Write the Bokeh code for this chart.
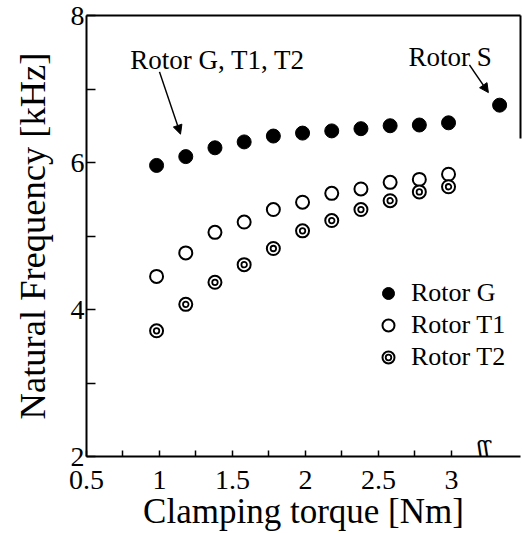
from bokeh.plotting import figure
from bokeh.models import (LinearAxis, FixedTicker, Legend, LegendItem, Arrow,
                          NormalHead, Range1d, Label)
from bokeh.core.properties import value
from bokeh.embed import file_html
from bokeh.resources import INLINE

# ---- data ----
torque = [0.98, 1.18, 1.38, 1.58, 1.78, 1.98, 2.18, 2.38, 2.58, 2.78, 2.98]
freq_g = [5.96, 6.08, 6.20, 6.28, 6.36, 6.40, 6.43, 6.46, 6.50, 6.51, 6.54]
freq_t1 = [4.45, 4.77, 5.05, 5.19, 5.36, 5.46, 5.58, 5.64, 5.73, 5.77, 5.84]
freq_t2 = [3.71, 4.07, 4.37, 4.61, 4.83, 5.07, 5.21, 5.36, 5.48, 5.60, 5.67]
torque_s = [3.33]
freq_s = [6.78]

x_ticks = [0.5, 1, 1.5, 2, 2.5, 3]
x_tick_labels = ["0.5", "1", "1.5", "2", "2.5", "3"]
x_minor = [0.75, 1.25, 1.75, 2.25, 2.75]
y_ticks = [2, 4, 6, 8]
y_minor = [3, 5, 7]

# annotation texts and arrows (data coordinates)
note_text = ["Rotor G, T1, T2", "Rotor S"]
note_x = [0.80, 2.705]
note_y = [7.388, 7.435]
arrow_start = [(1.00, 7.233), (3.123, 7.328)]
arrow_end = [(1.144, 6.386), (3.253, 6.951)]
break_x = 3.22
break_y = 2.09

FONT = "Liberation Serif"

p = figure(width=522, height=533,
           x_range=Range1d(0.5, 3.473), y_range=Range1d(2, 8),
           output_backend="svg", toolbar_location=None,
           min_border_left=86, min_border_right=2,
           min_border_top=15, min_border_bottom=72,
           x_axis_label="Clamping torque [Nm]",
           y_axis_label="Natural Frequency [kHz]")
p.outline_line_color = None
p.grid.visible = False
p.background_fill_color = "white"
p.border_fill_color = "white"

xa = p.xaxis[0]
xa.ticker = FixedTicker(ticks=x_ticks, minor_ticks=x_minor)
xa.major_label_overrides = dict(zip(x_ticks, x_tick_labels))
ya = p.yaxis[0]
ya.ticker = FixedTicker(ticks=y_ticks, minor_ticks=y_minor)

for ax, tin in ((xa, 6), (ya, 9)):
    ax.axis_line_width = 2
    ax.axis_line_color = "black"
    ax.major_tick_in = tin
    ax.major_tick_out = 0
    ax.minor_tick_in = tin
    ax.minor_tick_out = 0
    ax.major_tick_line_width = 1.5
    ax.minor_tick_line_width = 1.5
    ax.major_tick_line_color = "black"
    ax.minor_tick_line_color = "black"
    ax.major_label_text_font = FONT
    ax.major_label_text_font_size = "28px"
    ax.major_label_text_color = "black"
    ax.axis_label_text_font = FONT
    ax.axis_label_text_font_style = "normal"
    ax.axis_label_text_color = "black"
xa.axis_label_text_font_size = "35px"
ya.axis_label_text_font_size = "36.5px"
xa.major_label_standoff = 14
xa.axis_label_standoff = 0
ya.major_label_standoff = 2
ya.axis_label_standoff = 15

# frame lines on top and (partially) right
top = LinearAxis(ticker=FixedTicker(ticks=[]), major_label_text_font_size="0px",
                 axis_line_width=2, major_tick_in=0, major_tick_out=0,
                 minor_tick_in=0, minor_tick_out=0, major_label_standoff=0)
p.add_layout(top, "above")
right = LinearAxis(ticker=FixedTicker(ticks=[]), major_label_text_font_size="0px",
                   axis_line_width=2, major_tick_in=0, major_tick_out=0,
                   minor_tick_in=0, minor_tick_out=0, major_label_standoff=0,
                   bounds=(6.32, 8))
p.add_layout(right, "right")

# data
rg = p.scatter(torque + torque_s, freq_g + freq_s, marker="circle", size=14,
               fill_color="black", line_color="black", line_width=1)
rt1 = p.scatter(torque, freq_t1, marker="circle", size=13, fill_color="white",
                line_color="black", line_width=2)
rt2 = p.scatter(torque, freq_t2, marker="circle", size=13, fill_color="white",
                line_color="black", line_width=2)
rt2i = p.scatter(torque, freq_t2, marker="circle", size=5.5, fill_color="white",
                 line_color="black", line_width=1.8)

# annotations
p.text(x=note_x, y=note_y, text=note_text, text_font=value(FONT),
       text_font_size="27px", text_baseline="alphabetic", text_align="left",
       text_color="black")
for (xs, ys), (xe, ye) in zip(arrow_start, arrow_end):
    p.add_layout(Arrow(end=NormalHead(size=9, fill_color="black", line_color="black"),
                       x_start=xs, y_start=ys, x_end=xe, y_end=ye,
                       line_width=1.5, line_color="black"))

# axis break mark
p.add_layout(Label(x=break_x, y=break_y, text="\u0283\u0283",
                   text_align="center", text_baseline="middle",
                   text_font="DejaVu Serif", text_font_size="24px",
                   text_color="black"))

# legend
leg = Legend(items=[LegendItem(label="Rotor G", renderers=[rg]),
                    LegendItem(label="Rotor T1", renderers=[rt1]),
                    LegendItem(label="Rotor T2", renderers=[rt2])],
             location=(287, 84), glyph_width=30, glyph_height=30,
             label_text_font=FONT, label_text_font_size="26px",
             label_text_color="black",
             label_standoff=8, spacing=2, padding=0, margin=0,
             background_fill_alpha=0, border_line_alpha=0)
p.add_layout(leg)
leg2 = Legend(items=[LegendItem(label=" ", renderers=[rt2i])],
              location=(295, 92), glyph_width=14, glyph_height=14,
              label_text_font_size="1px", label_width=0, label_height=0,
              label_standoff=0, spacing=0, padding=0, margin=0,
              background_fill_alpha=0, border_line_alpha=0)
p.add_layout(leg2)

open("out.html", "w").write(file_html(p, INLINE))
